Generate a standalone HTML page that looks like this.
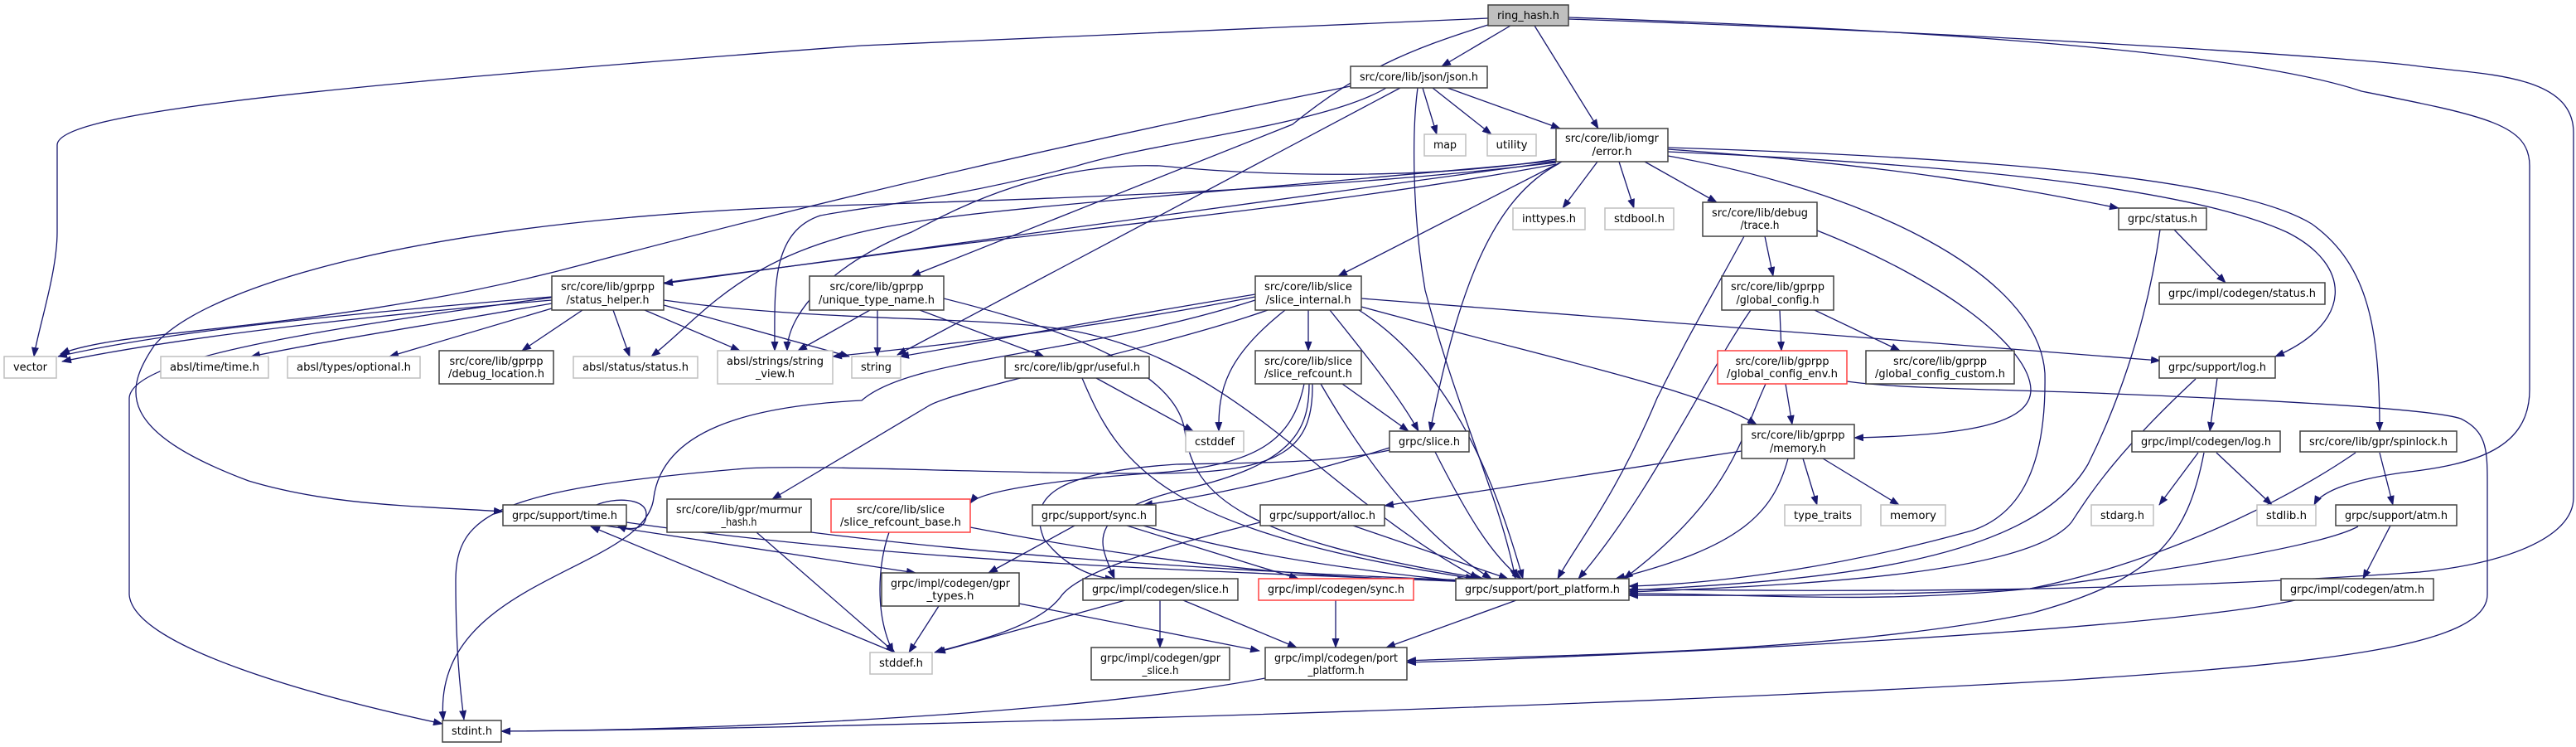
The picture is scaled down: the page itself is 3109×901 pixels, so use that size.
<!DOCTYPE html>
<html><head><meta charset="utf-8"><style>
html,body{margin:0;padding:0;background:#fff;}
svg{display:block;}
text{font-family:"DejaVu Sans","Liberation Sans",sans-serif;font-size:13px;fill:#000;text-anchor:middle;}
.e{fill:none;stroke:#191970;stroke-width:1.3;marker-end:url(#a);}
.n{fill:#fff;stroke:#404040;stroke-width:1.5;}
.g{fill:#fff;stroke:#bfbfbf;stroke-width:1.5;}
.r{fill:#fff;stroke:#ff4040;stroke-width:1.5;}
</style></head><body>
<svg width="3109" height="901" viewBox="0 0 3109 901" xmlns="http://www.w3.org/2000/svg">
<defs><marker id="a" markerWidth="12" markerHeight="9" refX="11" refY="4.5" orient="auto" markerUnits="userSpaceOnUse"><path d="M0,0 L12,4.5 L0,9 z" fill="#191970"/></marker></defs>

<g>
<!-- ring_hash -->
<path class="e" d="M1796,22 C1500,35 1200,50 1040,55 C300,110 69,140 69,175 L69,280 C69,330 45,400 41,430"/>
<path class="e" d="M1823,31 L1740,80"/>
<path class="e" d="M1852,31 L1929,155"/>
<path class="e" d="M1796,30 C1700,60 1640,85 1560,150 L1100,333"/>
<path class="e" d="M1893,21 C2300,35 2700,60 2850,110 C3000,140 3053,150 3053,200 L3053,470 C3053,540 2990,560 2900,570 C2830,580 2800,595 2793,609"/>
<path class="e" d="M1893,23 C2400,40 2850,70 2920,80 C3000,90 3106,90 3106,160 L3106,600 C3106,650 3020,680 2920,690 C2500,720 2100,711 1966,711"/>
<!-- json -->
<path class="e" d="M1717,106 L1734,162"/>
<path class="e" d="M1729,106 L1800,162"/>
<path class="e" d="M1747,106 L1883,155"/>
<path class="e" d="M1630,104 C1300,170 1000,240 700,320 C400,400 150,395 73,427"/>
<path class="e" d="M1690,106 L1083,428"/>
<path class="e" d="M1673,106 C1600,150 1400,170 1300,200 C1150,240 1040,250 990,260 C930,280 935,350 935,423"/>
<path class="e" d="M1711,106 C1705,150 1703,250 1720,350 C1760,500 1810,600 1829,698"/>
<!-- error.h -->
<path class="e" d="M1928,195 L1886,251"/>
<path class="e" d="M1954,195 L1972,251"/>
<path class="e" d="M1985,195 L2072,244"/>
<path class="e" d="M1885,195 L1615,333"/>
<path class="e" d="M1882,197 C1800,240 1760,350 1726,520"/>
<path class="e" d="M1878,195 L801,342"/>
<path class="e" d="M1878,194 C1500,230 1200,250 1090,270 C900,300 850,380 786,430"/>
<path class="e" d="M1878,192 C1700,220 1500,210 1400,200 C1250,195 1140,260 1100,280 C1000,320 950,380 950,423"/>
<path class="e" d="M1878,196 C1600,230 1250,240 1040,247 C500,260 240,350 186,417 C150,470 140,520 300,580 C400,610 500,610 607,617"/>
<path class="e" d="M1878,198 C1600,250 1250,280 1040,310 C500,380 160,420 156,480 L156,717 C160,780 380,840 534,873"/>
<path class="e" d="M2013,180 C2300,200 2450,230 2557,251"/>
<path class="e" d="M2013,183 C2400,200 2650,230 2760,280 C2840,320 2840,390 2746,430"/>
<path class="e" d="M2013,178 C2400,190 2700,215 2790,270 C2860,320 2872,400 2872,520"/>
<path class="e" d="M2013,188 C2250,230 2460,330 2468,450 C2470,560 2440,620 2380,640 C2200,690 2050,705 1966,707"/>
<!-- trace -->
<path class="e" d="M2130,285 L2140,333"/>
<path class="e" d="M2105,285 C2070,350 2040,400 2000,480 C1950,600 1900,660 1880,698"/>
<path class="e" d="M2193,278 C2350,340 2450,420 2451,470 C2451,510 2380,525 2238,528"/>
<!-- global_config -->
<path class="e" d="M2148,374 L2150,423"/>
<path class="e" d="M2190,374 L2293,423"/>
<path class="e" d="M2113,374 C2060,450 1990,600 1905,698"/>
<!-- global_config_env -->
<path class="e" d="M2155,463 L2163,512"/>
<path class="e" d="M2131,463 C2100,530 2090,600 1960,698"/>
<path class="e" d="M2229,460 C2300,470 2450,470 2550,475 C2800,485 2940,495 2970,505 C3000,520 3002,540 3002,580 L3002,717 C3002,780 2800,800 2500,820 C1800,860 900,880 605,882"/>
<!-- memory.h -->
<path class="e" d="M2176,553 L2193,609"/>
<path class="e" d="M2200,553 L2292,609"/>
<path class="e" d="M2158,553 C2140,620 2100,660 1950,698"/>
<path class="e" d="M2102,544 L1671,610"/>
<!-- status.h -->
<path class="e" d="M2624,277 L2686,341"/>
<path class="e" d="M2607,277 C2590,400 2550,500 2520,560 C2450,680 2200,700 1966,712"/>
<!-- log.h -->
<path class="e" d="M2676,456 L2667,520"/>
<path class="e" d="M2650,457 C2550,550 2520,600 2500,630 C2450,690 2200,705 1966,714"/>
<!-- codegen/log.h -->
<path class="e" d="M2653,546 L2606,609"/>
<path class="e" d="M2675,546 L2742,609"/>
<path class="e" d="M2660,546 C2640,650 2600,700 2450,740 C2200,790 1850,790 1698,797"/>
<!-- spinlock -->
<path class="e" d="M2843,546 C2750,610 2600,680 2450,710 C2250,730 2100,715 1966,716"/>
<path class="e" d="M2872,546 L2888,609"/>
<!-- atm -->
<path class="e" d="M2885,634 L2852,698"/>
<path class="e" d="M2846,635 C2800,660 2600,690 2450,710 C2250,720 2100,718 1966,718"/>
<path class="e" d="M2770,724 C2600,760 2000,790 1698,799"/>
<!-- slice_internal -->
<path class="e" d="M1579,374 L1579,423"/>
<path class="e" d="M1515,355 C1300,390 1150,420 1086,430"/>
<path class="e" d="M1515,358 C1300,400 1100,420 1005,430"/>
<path class="e" d="M1551,374 C1480,430 1470,470 1471,520"/>
<path class="e" d="M1605,374 C1650,430 1690,480 1712,520"/>
<path class="e" d="M1640,374 C1760,450 1810,600 1838,698"/>
<path class="e" d="M1643,370 C1900,440 2050,470 2120,512"/>
<path class="e" d="M1643,360 L2607,435"/>
<path class="e" d="M1515,362 C1300,430 1100,430 1040,483 C900,490 800,520 789,600 C780,690 520,697 535,869"/>
<path class="e" d="M1530,374 C1400,420 1150,470 1120,490 L932,602"/>
<!-- slice_refcount -->
<path class="e" d="M1620,463 L1700,520"/>
<path class="e" d="M1574,463 C1560,530 1520,560 1400,570 C1250,580 1180,595 1171,607"/>
<path class="e" d="M1580,463 C1580,520 1560,560 1430,590 C1300,620 1330,660 1345,698"/>
<path class="e" d="M1594,463 C1650,560 1720,650 1800,698"/>
<path class="e" d="M1584,463 C1585,540 1550,570 1400,571 C1200,572 1000,560 900,565 C600,590 550,620 550,700 C550,780 555,830 560,868"/>
<!-- grpc/slice.h -->
<path class="e" d="M1677,540 C1550,580 1450,600 1380,609"/>
<path class="e" d="M1677,543 C1600,560 1500,558 1420,560 C1270,570 1240,600 1260,650 C1290,690 1330,698 1345,698"/>
<path class="e" d="M1732,545 C1770,620 1800,670 1836,698"/>
<!-- unique_type_name -->
<path class="e" d="M1059,374 L1059,430"/>
<path class="e" d="M1050,374 L963,423"/>
<path class="e" d="M1110,374 L1260,430"/>
<path class="e" d="M1139,360 C1300,400 1420,450 1430,520 C1440,600 1500,650 1790,698"/>
<!-- status_helper -->
<path class="e" d="M666,358 C400,380 200,400 70,430"/>
<path class="e" d="M666,362 C400,385 200,410 75,436"/>
<path class="e" d="M666,366 C500,395 400,410 303,430"/>
<path class="e" d="M666,372 L470,430"/>
<path class="e" d="M703,374 L630,423"/>
<path class="e" d="M740,374 L760,430"/>
<path class="e" d="M778,374 L893,423"/>
<path class="e" d="M801,368 L1025,430"/>
<path class="e" d="M801,362 C1000,390 1200,380 1300,400 C1500,440 1600,600 1785,698"/>
<!-- useful -->
<path class="e" d="M1323,456 L1440,520"/>
<path class="e" d="M1306,456 C1350,560 1400,640 1780,698"/>
<!-- murmur, refcount_base -->
<path class="e" d="M913,642 L1080,787"/>
<path class="e" d="M979,642 C1200,670 1500,690 1770,700"/>
<path class="e" d="M1073,642 C1060,680 1055,740 1078,787"/>
<path class="e" d="M1171,636 C1400,680 1600,700 1772,700"/>
<!-- time.h -->
<path class="e" d="M1080,787 L713,635"/>
<path class="e" d="M730,634 L1105,691"/>
<path class="e" d="M756,630 C1100,680 1500,690 1775,702"/>
<path class="e" d="M720,609 C740,600 780,600 780,620 C780,640 760,640 745,634"/>
<!-- sync.h -->
<path class="e" d="M1297,634 L1193,691"/>
<path class="e" d="M1360,634 L1567,698"/>
<path class="e" d="M1380,634 C1500,670 1650,690 1775,702"/>
<!-- alloc.h -->
<path class="e" d="M1521,630 C1400,660 1300,690 1280,720 C1250,760 1150,780 1128,787"/>
<path class="e" d="M1633,634 L1820,698"/>
<!-- gpr_types -->
<path class="e" d="M1133,731 L1097,787"/>
<path class="e" d="M1230,728 L1520,785"/>
<!-- codegen/slice -->
<path class="e" d="M1358,724 L1130,787"/>
<path class="e" d="M1400,724 L1400,781"/>
<path class="e" d="M1428,724 L1565,781"/>
<!-- codegen/sync -->
<path class="e" d="M1612,724 L1612,781"/>
<!-- port_platform -->
<path class="e" d="M1830,724 L1673,781"/>
<path class="e" d="M1527,818 C1300,860 900,880 605,882"/>
</g>

<g>
<rect x="1796" y="6" width="97" height="25" fill="#bfbfbf" stroke="#404040" stroke-width="1.5"/><text x="1844.5" y="23" textLength="75" lengthAdjust="spacingAndGlyphs">ring_hash.h</text>

<rect class="n" x="1630" y="80" width="165" height="26"/><text x="1712.5" y="97" textLength="143" lengthAdjust="spacingAndGlyphs">src/core/lib/json/json.h</text>
<rect class="g" x="1719" y="162" width="50" height="26"/><text x="1744" y="179" textLength="28" lengthAdjust="spacingAndGlyphs">map</text>
<rect class="g" x="1795" y="162" width="59" height="26"/><text x="1824.5" y="179" textLength="38" lengthAdjust="spacingAndGlyphs">utility</text>
<rect class="n" x="1878" y="155" width="135" height="40"/><text x="1945.5" y="171" textLength="113" lengthAdjust="spacingAndGlyphs">src/core/lib/iomgr</text><text x="1945.5" y="187" textLength="48" lengthAdjust="spacingAndGlyphs">/error.h</text>
<rect class="g" x="1826" y="251" width="87" height="26"/><text x="1869.5" y="268" textLength="65" lengthAdjust="spacingAndGlyphs">inttypes.h</text>
<rect class="g" x="1937" y="251" width="83" height="26"/><text x="1978.5" y="268" textLength="61" lengthAdjust="spacingAndGlyphs">stdbool.h</text>
<rect class="n" x="2055" y="244" width="138" height="41"/><text x="2124" y="261" textLength="116" lengthAdjust="spacingAndGlyphs">src/core/lib/debug</text><text x="2124" y="276" textLength="47" lengthAdjust="spacingAndGlyphs">/trace.h</text>
<rect class="n" x="2557" y="251" width="106" height="26"/><text x="2610" y="268" textLength="84" lengthAdjust="spacingAndGlyphs">grpc/status.h</text>
<rect class="n" x="2606" y="341" width="200" height="26"/><text x="2706" y="358" textLength="178" lengthAdjust="spacingAndGlyphs">grpc/impl/codegen/status.h</text>

<rect class="n" x="666" y="333" width="135" height="41"/><text x="733.5" y="350" textLength="113" lengthAdjust="spacingAndGlyphs">src/core/lib/gprpp</text><text x="733.5" y="366" textLength="100" lengthAdjust="spacingAndGlyphs">/status_helper.h</text>
<rect class="n" x="977" y="333" width="162" height="41"/><text x="1058" y="350" textLength="113" lengthAdjust="spacingAndGlyphs">src/core/lib/gprpp</text><text x="1058" y="366" textLength="140" lengthAdjust="spacingAndGlyphs">/unique_type_name.h</text>
<rect class="n" x="1515" y="333" width="128" height="41"/><text x="1579" y="350" textLength="106" lengthAdjust="spacingAndGlyphs">src/core/lib/slice</text><text x="1579" y="366" textLength="103" lengthAdjust="spacingAndGlyphs">/slice_internal.h</text>
<rect class="n" x="2078" y="333" width="135" height="41"/><text x="2145.5" y="350" textLength="113" lengthAdjust="spacingAndGlyphs">src/core/lib/gprpp</text><text x="2145.5" y="366" textLength="100" lengthAdjust="spacingAndGlyphs">/global_config.h</text>

<rect class="g" x="5" y="430" width="63" height="26"/><text x="36.5" y="447" textLength="41" lengthAdjust="spacingAndGlyphs">vector</text>
<rect class="g" x="194" y="430" width="130" height="26"/><text x="259" y="447" textLength="108" lengthAdjust="spacingAndGlyphs">absl/time/time.h</text>
<rect class="g" x="347" y="430" width="160" height="26"/><text x="427" y="447" textLength="138" lengthAdjust="spacingAndGlyphs">absl/types/optional.h</text>
<rect class="n" x="530" y="423" width="138" height="40"/><text x="599" y="440" textLength="113" lengthAdjust="spacingAndGlyphs">src/core/lib/gprpp</text><text x="599" y="455" textLength="116" lengthAdjust="spacingAndGlyphs">/debug_location.h</text>
<rect class="g" x="692" y="430" width="150" height="26"/><text x="767" y="447" textLength="128" lengthAdjust="spacingAndGlyphs">absl/status/status.h</text>
<rect class="g" x="866" y="423" width="139" height="40"/><text x="935.5" y="440" textLength="117" lengthAdjust="spacingAndGlyphs">absl/strings/string</text><text x="935.5" y="455" textLength="47" lengthAdjust="spacingAndGlyphs">_view.h</text>
<rect class="g" x="1028" y="430" width="59" height="26"/><text x="1057.5" y="447" textLength="37" lengthAdjust="spacingAndGlyphs">string</text>
<rect class="n" x="1213" y="430" width="174" height="26"/><text x="1300" y="447" textLength="152" lengthAdjust="spacingAndGlyphs">src/core/lib/gpr/useful.h</text>
<rect class="n" x="1515" y="423" width="128" height="40"/><text x="1579" y="440" textLength="106" lengthAdjust="spacingAndGlyphs">src/core/lib/slice</text><text x="1579" y="455" textLength="106" lengthAdjust="spacingAndGlyphs">/slice_refcount.h</text>
<rect class="r" x="2073" y="423" width="156" height="40"/><text x="2151" y="440" textLength="113" lengthAdjust="spacingAndGlyphs">src/core/lib/gprpp</text><text x="2151" y="455" textLength="134" lengthAdjust="spacingAndGlyphs">/global_config_env.h</text>
<rect class="n" x="2252" y="423" width="179" height="40"/><text x="2341.5" y="440" textLength="113" lengthAdjust="spacingAndGlyphs">src/core/lib/gprpp</text><text x="2341.5" y="455" textLength="157" lengthAdjust="spacingAndGlyphs">/global_config_custom.h</text>
<rect class="n" x="2606" y="430" width="140" height="26"/><text x="2676" y="447" textLength="118" lengthAdjust="spacingAndGlyphs">grpc/support/log.h</text>

<rect class="g" x="1431" y="520" width="70" height="25"/><text x="1466" y="537" textLength="48" lengthAdjust="spacingAndGlyphs">cstddef</text>
<rect class="n" x="1677" y="520" width="96" height="25"/><text x="1725" y="537" textLength="74" lengthAdjust="spacingAndGlyphs">grpc/slice.h</text>
<rect class="n" x="2102" y="512" width="136" height="41"/><text x="2170" y="529" textLength="113" lengthAdjust="spacingAndGlyphs">src/core/lib/gprpp</text><text x="2170" y="545" textLength="68" lengthAdjust="spacingAndGlyphs">/memory.h</text>
<rect class="n" x="2573" y="520" width="179" height="25"/><text x="2662.5" y="537" textLength="157" lengthAdjust="spacingAndGlyphs">grpc/impl/codegen/log.h</text>
<rect class="n" x="2776" y="520" width="189" height="25"/><text x="2870.5" y="537" textLength="167" lengthAdjust="spacingAndGlyphs">src/core/lib/gpr/spinlock.h</text>

<rect class="n" x="607" y="609" width="149" height="25"/><text x="681.5" y="626" textLength="127" lengthAdjust="spacingAndGlyphs">grpc/support/time.h</text>
<rect class="n" x="805" y="602" width="174" height="40"/><text x="892" y="619" textLength="152" lengthAdjust="spacingAndGlyphs">src/core/lib/gpr/murmur</text><text x="892" y="634" textLength="43" lengthAdjust="spacingAndGlyphs">_hash.h</text>
<rect class="r" x="1003" y="602" width="168" height="40"/><text x="1087" y="619" textLength="106" lengthAdjust="spacingAndGlyphs">src/core/lib/slice</text><text x="1087" y="634" textLength="146" lengthAdjust="spacingAndGlyphs">/slice_refcount_base.h</text>
<rect class="n" x="1246" y="609" width="149" height="25"/><text x="1320.5" y="626" textLength="127" lengthAdjust="spacingAndGlyphs">grpc/support/sync.h</text>
<rect class="n" x="1521" y="609" width="150" height="25"/><text x="1596" y="626" textLength="128" lengthAdjust="spacingAndGlyphs">grpc/support/alloc.h</text>
<rect class="g" x="2154" y="609" width="92" height="25"/><text x="2200" y="626" textLength="70" lengthAdjust="spacingAndGlyphs">type_traits</text>
<rect class="g" x="2270" y="609" width="78" height="25"/><text x="2309" y="626" textLength="56" lengthAdjust="spacingAndGlyphs">memory</text>
<rect class="g" x="2524" y="609" width="75" height="25"/><text x="2561.5" y="626" textLength="53" lengthAdjust="spacingAndGlyphs">stdarg.h</text>
<rect class="g" x="2724" y="609" width="71" height="25"/><text x="2759.5" y="626" textLength="49" lengthAdjust="spacingAndGlyphs">stdlib.h</text>
<rect class="n" x="2819" y="609" width="146" height="25"/><text x="2892" y="626" textLength="124" lengthAdjust="spacingAndGlyphs">grpc/support/atm.h</text>

<rect class="n" x="1064" y="691" width="166" height="40"/><text x="1147" y="708" textLength="144" lengthAdjust="spacingAndGlyphs">grpc/impl/codegen/gpr</text><text x="1147" y="723" textLength="57" lengthAdjust="spacingAndGlyphs">_types.h</text>
<rect class="n" x="1307" y="698" width="187" height="26"/><text x="1400.5" y="715" textLength="165" lengthAdjust="spacingAndGlyphs">grpc/impl/codegen/slice.h</text>
<rect class="r" x="1519" y="698" width="187" height="26"/><text x="1612.5" y="715" textLength="165" lengthAdjust="spacingAndGlyphs">grpc/impl/codegen/sync.h</text>
<rect class="n" x="1757" y="698" width="209" height="26"/><text x="1861.5" y="715" textLength="187" lengthAdjust="spacingAndGlyphs">grpc/support/port_platform.h</text>
<rect class="n" x="2753" y="698" width="184" height="26"/><text x="2845" y="715" textLength="162" lengthAdjust="spacingAndGlyphs">grpc/impl/codegen/atm.h</text>

<rect class="g" x="1050" y="787" width="75" height="26"/><text x="1087.5" y="804" textLength="53" lengthAdjust="spacingAndGlyphs">stddef.h</text>
<rect class="n" x="1317" y="781" width="167" height="39"/><text x="1400.5" y="798" textLength="145" lengthAdjust="spacingAndGlyphs">grpc/impl/codegen/gpr</text><text x="1400.5" y="813" textLength="44" lengthAdjust="spacingAndGlyphs">_slice.h</text>
<rect class="n" x="1527" y="781" width="171" height="39"/><text x="1612.5" y="798" textLength="149" lengthAdjust="spacingAndGlyphs">grpc/impl/codegen/port</text><text x="1612.5" y="813" textLength="68" lengthAdjust="spacingAndGlyphs">_platform.h</text>
<rect class="n" x="534" y="869" width="71" height="26"/><text x="569.5" y="886" textLength="49" lengthAdjust="spacingAndGlyphs">stdint.h</text>
</g>
</svg>
</body></html>
